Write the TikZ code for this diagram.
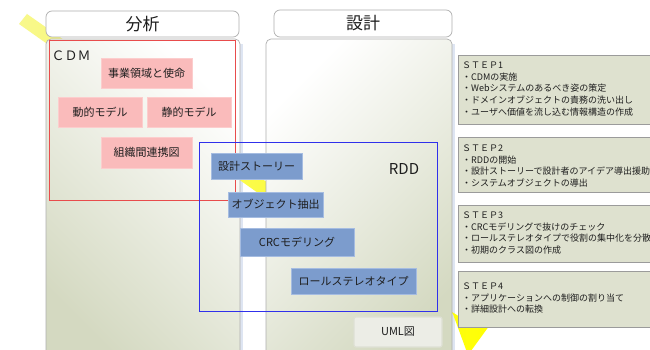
\documentclass[tikz,border=0pt]{standalone}
\usepackage{fontspec}
\setmainfont{Noto Sans CJK JP}
\definecolor{pinkfill}{RGB}{250,187,187}
\definecolor{pinkedge}{RGB}{252,205,205}
\definecolor{bluefill}{RGB}{124,156,205}
\definecolor{blueedge}{RGB}{165,188,225}
\definecolor{stepfill}{RGB}{222,225,207}
\definecolor{stepedge}{RGB}{155,155,155}
\definecolor{panelgreen}{RGB}{212,217,193}
\definecolor{paneledge}{RGB}{175,175,175}
\definecolor{cdmred}{RGB}{232,76,76}
\definecolor{rddblue}{RGB}{48,48,235}
\definecolor{umlfill}{RGB}{236,237,230}
\definecolor{umledge}{RGB}{222,224,212}
\definecolor{arrowpale}{RGB}{248,248,140}
\definecolor{shadowblue}{RGB}{222,229,242}
\definecolor{txt}{RGB}{30,30,30}
\begin{document}
\begin{tikzpicture}[x=1pt,y=-1pt,
  pinkbox/.style={fill=pinkfill,draw=pinkedge,line width=0.6pt,inner sep=0pt,font=\fontsize{11pt}{13pt}\selectfont,text=txt},
  bluebox/.style={fill=bluefill,draw=blueedge,line width=0.6pt,inner sep=0pt,font=\fontsize{11pt}{13pt}\selectfont,text=txt},
  stepbox/.style={fill=stepfill,draw=stepedge,line width=0.8pt},
  steptext/.style={anchor=north west,inner sep=0pt,align=left,font=\fontsize{9pt}{11.7pt}\selectfont,text=txt},
  panel/.style={rounded corners=5pt,draw=paneledge,line width=0.7pt},
  header/.style={rounded corners=6pt,draw=paneledge,line width=0.7pt,fill=white,inner sep=0pt,font=\fontsize{17pt}{20pt}\selectfont,text=txt},
  umlbox/.style={fill=umlfill,draw=umledge,line width=1.2pt,rounded corners=2pt,inner sep=0pt,font=\fontsize{11pt}{13pt}\selectfont,text=txt},
  framelabel/.style={inner sep=0pt,text=txt},
]
\useasboundingbox (0,0) rectangle (650,350);
\clip (0,0) rectangle (650,350);
\fill[white] (0,0) rectangle (650,350);

% soft shadows at the right of the panels
\fill[shadowblue] (240,44) rectangle (243,350);
\fill[shadowblue] (452,44) rectangle (455,350);

% big yellow arrow (mostly hidden)
\path[left color=arrowpale,right color=yellow]
  (19,24) -- (27,14) -- (452,312) -- (460,317) -- (500,311) -- (468,355)
  -- (452.7,313.3) -- (440,321.6) -- cycle;

% panels
\path[panel,top color=white,bottom color=panelgreen,shading angle=-45] (46,39) rectangle (240,365);
\path[panel,top color=white,bottom color=panelgreen,shading angle=45] (266,39) rectangle (452,365);

% headers
\node[header,minimum width=193pt,minimum height=26pt] (hbunseki) at (142.5,24) {分析};
\node[header,minimum width=178pt,minimum height=27pt] (hsekkei) at (363,23.5) {設計};

% CDM / RDD frames
\draw[cdmred,line width=1pt] (49,41) rectangle (235,200);
\draw[rddblue,line width=1pt] (199,142) rectangle (437,311);
\node[framelabel,font=\fontsize{13pt}{15pt}\selectfont] (cdm) at (71,56) {ＣＤＭ};
\node[framelabel,font=\fontsize{15pt}{18pt}\selectfont] (rdd) at (404,169) {RDD};

% CDM boxes
\node[pinkbox,minimum width=91pt,minimum height=30pt] (jigyo) at (146.5,73) {事業領域と使命};
\node[pinkbox,minimum width=84pt,minimum height=30pt] (doteki) at (100,112) {動的モデル};
\node[pinkbox,minimum width=84pt,minimum height=30pt] (seiteki) at (189,112) {静的モデル};
\node[pinkbox,minimum width=91pt,minimum height=31pt] (soshiki) at (146.5,152.5) {組織間連携図};

% RDD boxes
\node[bluebox,minimum width=91pt,minimum height=26pt] (story) at (256.5,166) {設計ストーリー};
\node[bluebox,minimum width=95pt,minimum height=25pt] (obj) at (275.5,204.5) {オブジェクト抽出};
\node[bluebox,minimum width=114pt,minimum height=28pt] (crc) at (297,242) {CRCモデリング};
\node[bluebox,minimum width=125pt,minimum height=26pt] (role) at (353.5,281) {ロールステレオタイプ};

% UML
\node[umlbox,minimum width=88pt,minimum height=30pt] (uml) at (398,332) {UML図};

% STEP boxes
\path[stepbox] (458,55) rectangle (662,124);
\path[stepbox] (458,137) rectangle (662,192);
\path[stepbox] (458,205) rectangle (662,262);
\path[stepbox] (458,271) rectangle (662,327);

\node[steptext] (step1) at (462,60.2) {\strut ＳＴＥＰ1\\・CDMの実施\\・Webシステムのあるべき姿の策定\\・ドメインオブジェクトの責務の洗い出し\\・ユーザへ価値を流し込む情報構造の作成};
\node[steptext] (step2) at (462,143.2) {\strut ＳＴＥＰ2\\・RDDの開始\\・設計ストーリーで設計者のアイデア導出援助\\・システムオブジェクトの導出};
\node[steptext] (step3) at (462,210.2) {\strut ＳＴＥＰ3\\・CRCモデリングで抜けのチェック\\・ロールステレオタイプで役割の集中化を分散\\・初期のクラス図の作成};
\node[steptext] (step4) at (462,281.2) {\strut ＳＴＥＰ4\\・アプリケーションへの制御の割り当て\\・詳細設計への転換};
\end{tikzpicture}
\end{document}
